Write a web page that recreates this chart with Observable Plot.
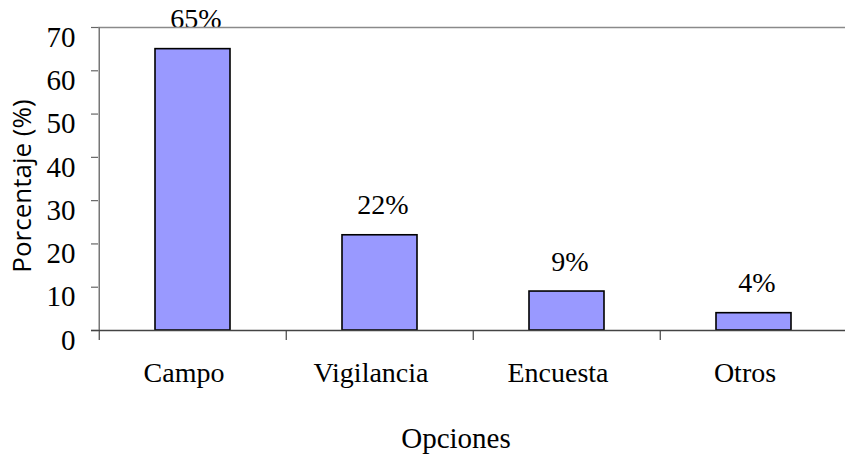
<!DOCTYPE html>
<html><head><meta charset="utf-8">
<script src="https://cdn.jsdelivr.net/npm/d3@7"></script>
<script src="https://cdn.jsdelivr.net/npm/@observablehq/plot@0.6"></script>
<style>body{margin:0;background:#fff}</style>
</head><body><div id="chart"></div>
<script>
const categories = ["Campo", "Vigilancia", "Encuesta", "Otros"];
const values = [65, 22, 9, 4];
const yTicks = [0, 10, 20, 30, 40, 50, 60, 70];
const yLabel = "Porcentaje (%)";
const xLabel = "Opciones";

const data = categories.map((c, i) => ({category: c, value: values[i]}));

const W = 845, H = 464, mL = 98, mT = 27, mB = 134;
const xRange = [98, 848];
const bw = (xRange[1] - xRange[0]) / categories.length;
const serif = "'Liberation Serif','Times New Roman',serif";
const sans = "'Open Sans','Liberation Sans',Arial,sans-serif";

const chart = Plot.plot({
  width: W, height: H,
  marginLeft: mL, marginRight: 0, marginTop: mT, marginBottom: mB,
  style: {fontFamily: serif, background: "#fff", color: "#000", overflow: "visible"},
  x: {domain: categories, range: xRange, padding: 0, axis: null},
  y: {domain: [0, 70], axis: null},
  marks: [
    Plot.barY(data, {x: "category", y: "value", fill: "#9999ff", stroke: "#000", strokeWidth: 1.6, insetLeft: 56, insetRight: 56}),
    Plot.text(data, {x: "category", y: "value", text: d => d.value + "%", dy: -30, dx: 3, fontSize: 28, fill: "#000"}),
    // top border
    Plot.ruleY([70], {stroke: "#8a8a8a", strokeWidth: 1.5}),
    // left axis line
    Plot.ruleX([categories[0]], {x: d => d, dx: -bw / 2, stroke: "#777", strokeWidth: 1.5}),
    // y tick marks
    Plot.ruleY(yTicks, {y: d => d, insetLeft: -7, insetRight: W - mL, stroke: "#666", strokeWidth: 1.2}),
    // bottom axis line
    Plot.ruleY([0], {stroke: "#444", strokeWidth: 1.5, insetLeft: -7}),
    // x tick marks at category boundaries
    Plot.ruleX(categories, {x: d => d, y1: 0, y2: 0, insetBottom: -10, dx: -bw / 2, stroke: "#444", strokeWidth: 1.2}),
    // y tick labels
    Plot.text(yTicks, {y: d => d, text: d => String(d), frameAnchor: "left", textAnchor: "end", dx: -23, dy: 10, fontSize: 29, fill: "#000"}),
    // x category labels
    Plot.text(categories, {x: d => d, text: d => d, frameAnchor: "bottom", dy: 51, dx: -9, fontSize: 28, fill: "#000"}),
    // x title
    Plot.text([xLabel], {text: d => d, frameAnchor: "bottom", dy: 117, dx: -16, fontSize: 29, fill: "#000"}),
    // y title
    Plot.text([yLabel], {text: d => d, frameAnchor: "left", textAnchor: "middle", rotate: -90, dx: -76, dy: 7, fontSize: 26, fontFamily: sans, fill: "#000"})
  ]
});
document.getElementById("chart").appendChild(chart);
</script>
</body></html>
